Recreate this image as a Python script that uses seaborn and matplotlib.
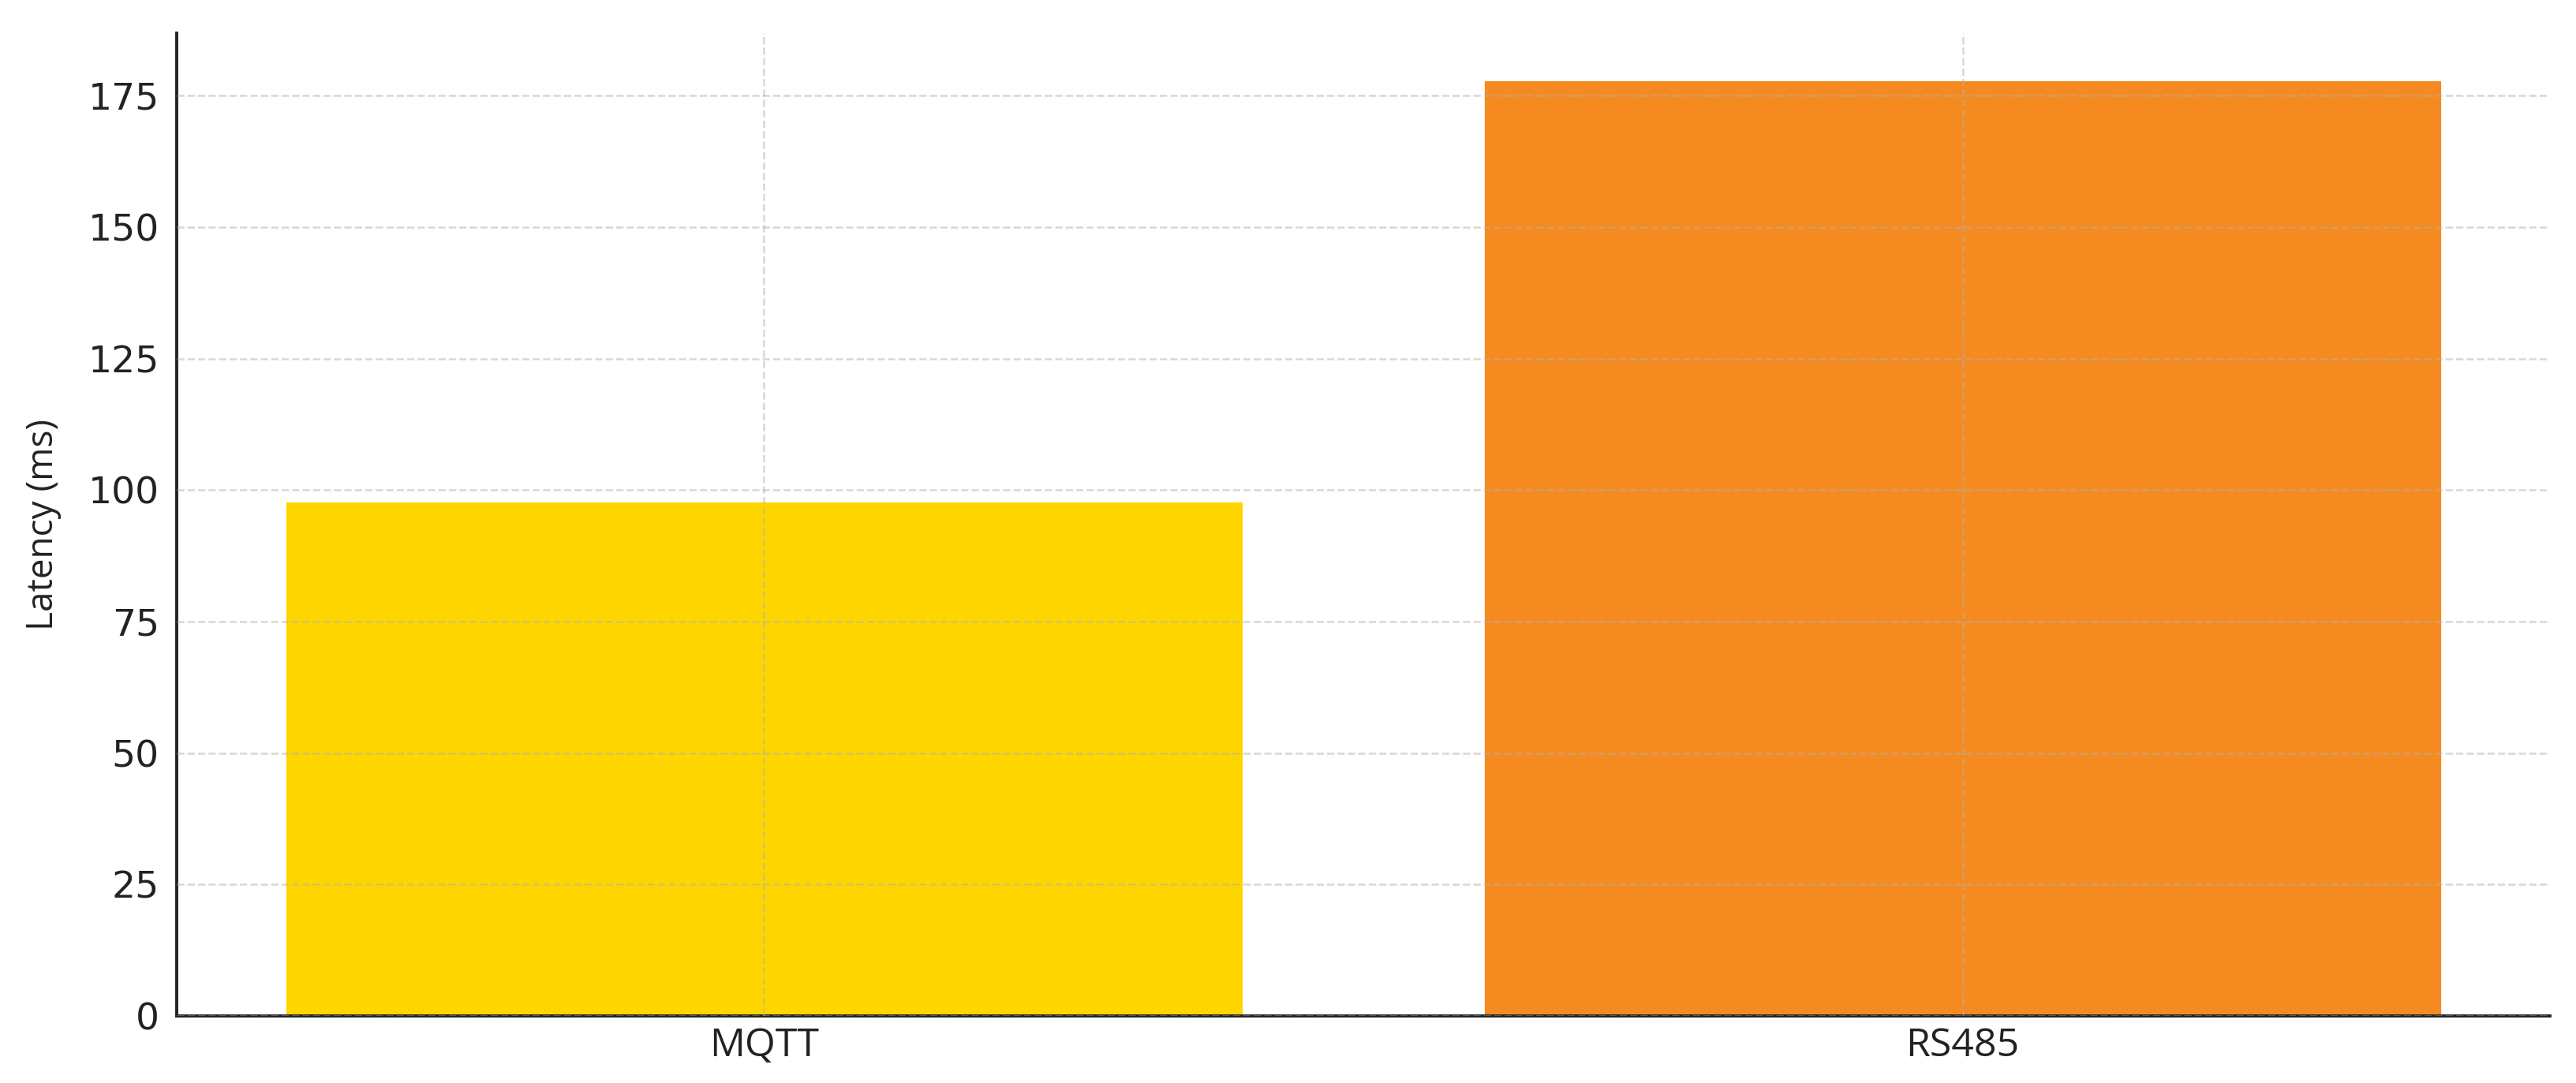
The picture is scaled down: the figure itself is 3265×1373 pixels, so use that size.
import matplotlib
matplotlib.use("Agg")
import matplotlib.pyplot as plt
import seaborn as sns

# data
protocols = ["MQTT", "RS485"]
latency_ms = [98, 178]
bar_colors = ["#FFD500", "#F58A20"]

sns.set_style("white")
plt.rcParams["font.family"] = ["DejaVu Sans"]

fig = plt.figure(figsize=(16.33, 6.865), dpi=200)
ax = fig.add_axes([0.0686, 0.0619, 0.9210, 0.9075])

sns.barplot(x=protocols, y=latency_ms, hue=protocols, palette=bar_colors,
            width=0.8, saturation=1, legend=False, ax=ax)

ax.set_xlim(-0.49, 1.49)
ax.set_ylim(0, max(latency_ms) * 1.05)

ax.grid(True, linestyle="--", color="#b0b0b0", alpha=0.5, linewidth=0.9)
ax.set_axisbelow(False)
for b in ax.patches:
    b.set_zorder(1)

sns.despine(ax=ax)
for side in ["left", "bottom"]:
    ax.spines[side].set_linewidth(1.4)
    ax.spines[side].set_color("#222222")

ax.tick_params(axis="both", direction="in", length=4.5, width=1.0, colors="#222222")
ax.tick_params(axis="y", labelsize=17, pad=8)
ax.tick_params(axis="x", pad=5)
for lab in ax.get_xticklabels():
    lab.set_fontfamily("Open Sans")
    lab.set_fontsize(18)

ax.set_xlabel("")
ax.set_ylabel("Latency (ms)", fontsize=16.5, fontfamily="Open Sans", color="#222222", labelpad=12)

fig.savefig("out.png", dpi=200)
